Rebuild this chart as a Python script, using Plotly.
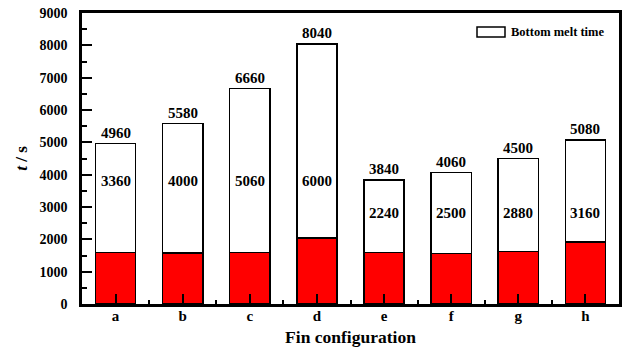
import plotly.graph_objects as go

categories = ["a", "b", "c", "d", "e", "f", "g", "h"]
total_time = [4960, 5580, 6660, 8040, 3840, 4060, 4500, 5080]
bottom_melt_time = [3360, 4000, 5060, 6000, 2240, 2500, 2880, 3160]
red_part = [t - b for t, b in zip(total_time, bottom_melt_time)]

xpos = list(range(len(categories)))
FONT = "Liberation Serif, Times New Roman, serif"
label_y = [3800, 3800, 3800, 3800, 2800, 2800, 2800, 2800]

fig = go.Figure()
fig.add_trace(go.Bar(x=xpos, y=red_part, width=0.6, marker=dict(color="#ff0000", line=dict(color="black", width=1.5)),
                     showlegend=False, hoverinfo="skip"))
fig.add_trace(go.Bar(x=xpos, y=bottom_melt_time, width=0.6, name="Bottom melt time", showlegend=False,
                     marker=dict(color="white", line=dict(color="black", width=1.5))))

for i, (t, b) in enumerate(zip(total_time, bottom_melt_time)):
    fig.add_annotation(x=i, y=t, text=f"<b>{t}</b>", showarrow=False, yanchor="bottom", yshift=1,
                       font=dict(family=FONT, size=15, color="black"))
    fig.add_annotation(x=i, y=label_y[i], text=f"<b>{b}</b>", showarrow=False,
                       font=dict(family=FONT, size=15, color="black"))

# legend (drawn manually for a wide rectangular swatch)
fig.add_shape(type="rect", xref="paper", yref="paper", x0=(477 - 82) / 537, x1=(505 - 82) / 537,
              y0=(304 - 37) / 291, y1=(304 - 27) / 291, line=dict(color="black", width=1.5), fillcolor="white")
fig.add_annotation(xref="paper", yref="paper", x=(509 - 82) / 537, y=(304 - 32) / 291, xanchor="left",
                   yanchor="middle", showarrow=False, text="<b>Bottom melt time</b>",
                   font=dict(family=FONT, size=12.5, color="black"))

fig.update_layout(
    barmode="stack",
    width=628, height=350,
    margin=dict(l=82, r=9, t=13, b=46),
    plot_bgcolor="white", paper_bgcolor="white",
    font=dict(family=FONT, size=15, color="black"),
    showlegend=False,
)
fig.update_xaxes(
    range=[-0.5, 7.5], tickvals=xpos, ticktext=[f"<b>{c}</b>" for c in categories],
    ticks="inside", ticklen=10, tickwidth=2, tickcolor="black",
    minor=dict(ticks="inside", dtick=0.5, tick0=0.5, ticklen=4, tickwidth=2, tickcolor="black"),
    showline=True, linewidth=2.5, linecolor="black", mirror=True, showgrid=False, zeroline=False,
    title=dict(text="<b>Fin configuration</b>", font=dict(family=FONT, size=17.5), standoff=8),
    tickfont=dict(family=FONT, size=15), automargin=False, ticklabelstandoff=-4,
)
fig.update_yaxes(
    range=[0, 9000], dtick=1000, tickformat="d",
    ticks="inside", ticklen=10, tickwidth=2, tickcolor="black",
    minor=dict(ticks="inside", dtick=500, ticklen=5, tickwidth=2, tickcolor="black"),
    showline=True, linewidth=2.5, linecolor="black", mirror=True, showgrid=False, zeroline=False,
    title=dict(text="<b><i>t</i> / s</b>", font=dict(family=FONT, size=17), standoff=8),
    tickprefix="<b>", ticksuffix="</b>",
    tickfont=dict(family=FONT, size=14), automargin=False, ticklabelstandoff=9,
)
fig.write_html("out.html", config={"displayModeBar": False},
               post_script="document.body.style.margin='0';document.body.style.overflow='hidden';")
